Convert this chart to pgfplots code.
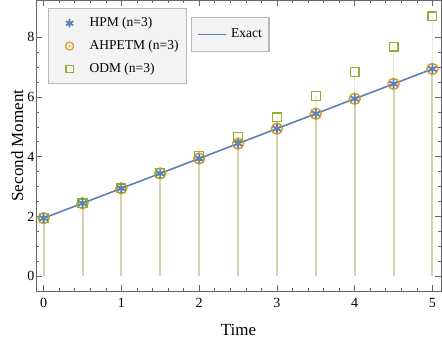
\documentclass[border=0pt]{standalone}
\usepackage{fontspec}
\setmainfont{Liberation Serif}
\usepackage{pgfplots}
\usepackage{pgfplotstable}
\pgfplotsset{compat=1.18}
\definecolor{mblue}{HTML}{5E81B5}
\definecolor{morange}{HTML}{E19C24}
\definecolor{mgreen}{HTML}{8FB032}
\definecolor{stemdark}{HTML}{D5D3AE}
\definecolor{stemlight}{HTML}{ECEED6}
\definecolor{framegray}{HTML}{666666}
\definecolor{legbg}{HTML}{F3F3F3}
\definecolor{legdraw}{HTML}{B8B8B8}

\pgfdeclareplotmark{odotm}{%
  \pgfpathcircle{\pgfpoint{0pt}{0pt}}{\pgfplotmarksize}\pgfusepathqstroke
  \pgfpathcircle{\pgfpoint{0pt}{0pt}}{0.28\pgfplotmarksize}\pgfusepathqfill}

\pgfplotstableread{
t y
0   1.94
0.5 2.44
1   2.94
1.5 3.44
2   3.94
2.5 4.44
3   4.94
3.5 5.44
4   5.94
4.5 6.44
5   6.94
}\exactdata

\pgfplotstableread{
t y
0   1.94
0.5 2.44
1   2.94
1.5 3.45
2   4.03
2.5 4.67
3   5.32
3.5 6.03
4   6.83
4.5 7.69
5   8.70
}\odmdata

\pgfplotsset{base/.style={
  width=405pt,height=291pt,scale only axis,
  xmin=-0.098,xmax=5.11,ymin=-0.5,ymax=9.25,
  at={(0,0)},anchor=south west,
  legend cell align=left,
}}

\begin{document}
\fontsize{13}{15}\selectfont
\begin{tikzpicture}
\useasboundingbox (-36pt,-52pt) rectangle (406pt,291pt);
% layer A: stems + exact line
\begin{axis}[base, hide axis,
  legend style={at={(0.3827,0.9416)},anchor=north west,
    draw=legdraw,line width=1.2pt,fill=legbg,
    font=\fontsize{13.5}{15}\selectfont,
    nodes={inner sep=1pt},
    column sep=3pt,
    inner xsep=6pt,inner ysep=10.5pt},
  legend image code/.code={\draw[#1,line width=1.6pt] (0pt,0pt) -- (28pt,0pt);},
]
\addplot[ycomb,stemlight,line width=1.6pt,forget plot] table[x=t,y=y] {\odmdata};
\addplot[ycomb,stemdark,line width=2pt,forget plot] table[x=t,y=y] {\exactdata};
\addplot[mblue,line width=1.6pt,no markers] table[x=t,y=y] {\exactdata};
\addlegendentry{Exact}
\end{axis}
% layer B: frame, ticks, markers
\begin{axis}[base,
  axis line style={framegray,line width=0.8pt},
  xtick={0,1,2,3,4,5},
  ytick={0,2,4,6,8},
  minor x tick num=4,
  minor y tick num=3,
  tick style={framegray,line width=0.6pt},
  major tick length=6pt,
  minor tick length=3.5pt,
  tick align=inside,
  xtick pos=both, ytick pos=both,
  xticklabel pos=lower, yticklabel pos=left,
  ticklabel style={font=\fontsize{14}{16}\selectfont},
  xticklabel style={yshift=-3pt},
  yticklabel style={inner xsep=1.5pt},
  /pgf/number format/assume math mode=true,
  xlabel={Time},
  ylabel={Second Moment},
  label style={font=\fontsize{17}{19}\selectfont},
  xlabel style={yshift=-7pt},
  ylabel style={yshift=-2pt},
  legend style={at={(0.0296,0.9725)},anchor=north west,
    draw=legdraw,line width=1.2pt,fill=legbg,
    font=\fontsize{13.5}{15}\selectfont,
    nodes={inner sep=1pt},
    row sep=9.5pt,column sep=3pt,
    inner xsep=7pt,inner ysep=8pt},
  legend image code/.code={\path[draw=none,fill=none] (-14pt,-1pt) rectangle (16pt,1pt);\draw[#1] plot coordinates {(0pt,0pt)};},
]
\addplot[only marks,mark=odotm,mark size=5.5pt,draw=morange,fill=morange,line width=1.5pt,forget plot] table[x=t,y=y] {\exactdata};
\addplot[only marks,mark=square,mark size=4.4pt,draw=mgreen,line width=1.3pt,forget plot] table[x=t,y=y] {\odmdata};
\addplot[only marks,mark=asterisk,mark size=4.8pt,draw=mblue,line width=1.8pt,forget plot] table[x=t,y=y] {\exactdata};
\addlegendimage{only marks,mark=asterisk,mark size=4.2pt,draw=mblue,line width=1.8pt}
\addlegendentry{HPM (n=3)}
\addlegendimage{only marks,mark=odotm,mark size=4pt,draw=morange,fill=morange,line width=1.2pt}
\addlegendentry{AHPETM (n=3)}
\addlegendimage{only marks,mark=square,mark size=3.6pt,draw=mgreen,line width=1.2pt}
\addlegendentry{ODM (n=3)}
\end{axis}
\end{tikzpicture}
\end{document}
